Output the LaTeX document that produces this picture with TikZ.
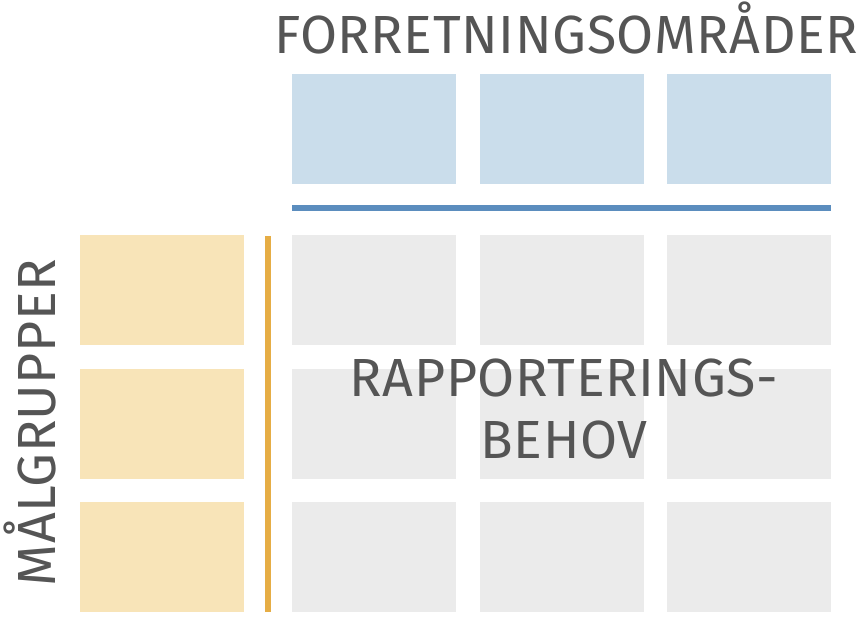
\documentclass[tikz,border=0pt]{standalone}
\usepackage{fontspec}
\setmainfont{Fira Sans}
\newfontfamily\diafont[LetterSpace=1.1]{Fira Sans}
\definecolor{txt}{HTML}{555555}
\definecolor{bluebox}{HTML}{CADDEB}
\definecolor{blueline}{HTML}{5B8DBE}
\definecolor{orangebox}{HTML}{F8E4B8}
\definecolor{orangeline}{HTML}{E6AD45}
\definecolor{graybox}{HTML}{EBEBEB}
\tikzset{
  cell/.style={rectangle, inner sep=0pt, outer sep=0pt, minimum width=164pt, minimum height=110pt, anchor=north west, draw=none},
  areabox/.style={cell, fill=bluebox},
  groupbox/.style={cell, fill=orangebox},
  needbox/.style={cell, fill=graybox},
  bigtext/.style={inner sep=0pt, outer sep=0pt, text=txt, font=\diafont\fontsize{53.7}{61}\selectfont},
}
\begin{document}
\begin{tikzpicture}[x=1pt,y=-1pt]
\useasboundingbox (0,0) rectangle (862,617);
% top blue boxes
\node[areabox] (a1) at (292,74) {};
\node[areabox] (a2) at (480,74) {};
\node[areabox] (a3) at (667,74) {};
% orange boxes
\node[groupbox] (g1) at (80,235) {};
\node[groupbox] (g2) at (80,369) {};
\node[groupbox] (g3) at (80,502) {};
% grey grid
\node[needbox] (n11) at (292,235) {};
\node[needbox] (n12) at (480,235) {};
\node[needbox] (n13) at (667,235) {};
\node[needbox] (n21) at (292,369) {};
\node[needbox] (n22) at (480,369) {};
\node[needbox] (n23) at (667,369) {};
\node[needbox] (n31) at (292,502) {};
\node[needbox] (n32) at (480,502) {};
\node[needbox] (n33) at (667,502) {};
% lines
\coordinate (bl1) at (292,208);
\coordinate (bl2) at (831,208);
\draw[blueline, line width=6pt] (bl1) -- (bl2);
\coordinate (ol1) at (268,236);
\coordinate (ol2) at (268,612);
\draw[orangeline, line width=6pt] (ol1) -- (ol2);
% texts
\node[bigtext, anchor=base west] (title) at (274,54) {FORRETNINGSOMRÅDER};
\node[bigtext, rotate=90, anchor=base west] (groups) at (55,586) {MÅLGRUPPER};
\node[bigtext, anchor=base] (need1) at (564,397) {RAPPORTERINGS-};
\node[bigtext, anchor=base] (need2) at (564,458) {BEHOV};
\end{tikzpicture}
\end{document}
